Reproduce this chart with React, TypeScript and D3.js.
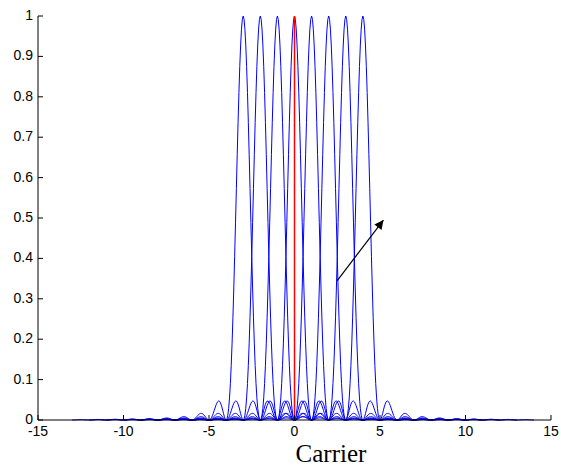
import React from "react";
import * as d3 from "d3";

// Sub-carrier centre frequencies (blue sinc^2 spectra)
const carriers = [-3, -2, -1, 0, 1, 2, 3, 4];
// Each carrier's spectrum is drawn over centre ± this span
const carrierSpan = 10;
const sampleStep = 0.05;
// Highlighted carrier (red stem)
const highlighted = [0];
// Arrow annotation [x, y] start -> end (data units)
const arrowFrom = [2.5, 0.345];
const arrowTo = [5.2, 0.495];

const xTicks = [-15, -10, -5, 0, 5, 10, 15];
const yTicks = [0, 0.1, 0.2, 0.3, 0.4, 0.5, 0.6, 0.7, 0.8, 0.9, 1];
const xLabel = "Carrier";

const W = 561;
const H = 466;

function sinc2(u: number) {
  if (Math.abs(u) < 1e-9) return 1;
  const v = Math.sin(Math.PI * u) / (Math.PI * u);
  return v * v;
}

export default function App() {
  const x = d3.scaleLinear().domain([-15, 15]).range([38, 551]);
  const y = d3.scaleLinear().domain([0, 1]).range([420, 16]);

  const line = d3
    .line<[number, number]>()
    .x((d) => x(d[0]))
    .y((d) => y(d[1]));

  const n = Math.round((2 * carrierSpan) / sampleStep);
  const series = carriers.map((c) => {
    const pts: [number, number][] = [];
    for (let i = 0; i <= n; i++) {
      const f = c - carrierSpan + i * sampleStep;
      pts.push([f, sinc2(f - c)]);
    }
    return pts;
  });

  return (
    <svg
      width={W}
      height={H}
      style={{ position: "absolute", left: 0, top: 0, background: "#fff" }}
    >
      <defs>
        <marker
          id="ah"
          viewBox="0 0 10 10"
          refX="10"
          refY="5"
          markerWidth="11"
          markerHeight="9"
          markerUnits="userSpaceOnUse"
          orient="auto"
        >
          <path d="M0,0 L10,5 L0,10 z" fill="#000" />
        </marker>
      </defs>
      <rect x={0} y={0} width={W} height={H} fill="#fff" />
      <g fill="none" stroke="#0000ff" strokeWidth={1}>
        {series.map((s, i) => (
          <path key={i} d={line(s) || ""} />
        ))}
      </g>
      {highlighted.map((c, i) => (
        <line
          key={i}
          x1={x(c)}
          x2={x(c)}
          y1={y(0)}
          y2={y(1)}
          stroke="#ff0000"
          strokeWidth={1.5}
        />
      ))}
      <line
        x1={x(arrowFrom[0])}
        y1={y(arrowFrom[1])}
        x2={x(arrowTo[0])}
        y2={y(arrowTo[1])}
        stroke="#000"
        strokeWidth={1.2}
        markerEnd="url(#ah)"
      />
      {/* axes */}
      <line x1={x(-15)} x2={x(15)} y1={y(0)} y2={y(0)} stroke="#000" />
      <line x1={x(-15)} x2={x(-15)} y1={y(0)} y2={y(1)} stroke="#000" />
      <g fontFamily="Liberation Sans, Arial, sans-serif" fontSize={14} fill="#000">
        {xTicks.map((t) => (
          <g key={"x" + t}>
            <line x1={x(t)} x2={x(t)} y1={y(0)} y2={y(0) - 5} stroke="#000" />
            <text x={x(t)} y={436} textAnchor="middle">
              {t}
            </text>
          </g>
        ))}
        {yTicks.map((t) => (
          <g key={"y" + t}>
            <line x1={x(-15)} x2={x(-15) + 5} y1={y(t)} y2={y(t)} stroke="#000" />
            <text x={33} y={y(t) + 4} textAnchor="end">
              {t}
            </text>
          </g>
        ))}
      </g>
      <text
        x={331}
        y={462}
        textAnchor="middle"
        fontFamily="Liberation Serif, Times New Roman, serif"
        fontSize={25}
        fill="#000"
      >
        {xLabel}
      </text>
    </svg>
  );
}
